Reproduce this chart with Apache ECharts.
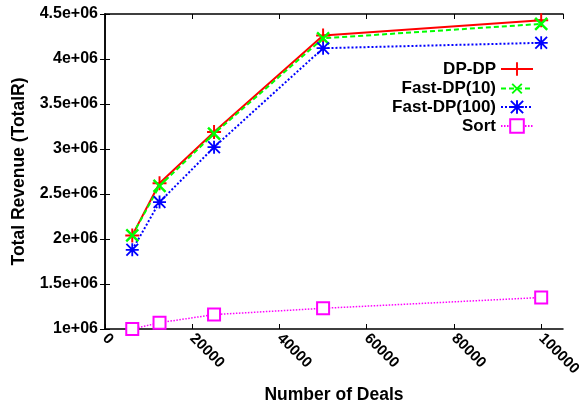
<!DOCTYPE html>
<html>
<head>
<meta charset="utf-8">
<script src="https://cdn.jsdelivr.net/npm/echarts@6/dist/echarts.min.js"></script>
<style>
  html, body { margin: 0; padding: 0; background: #fff; }
  #chart { width: 585px; height: 408px; }
</style>
</head>
<body>
<div id="chart"></div>
<script>
const deals = [6250, 12500, 25000, 50000, 100000];
const dpDp = [2.04e6, 2.62e6, 3.19e6, 4.26e6, 4.43e6];
const fastDp10 = [2.04e6, 2.59e6, 3.17e6, 4.23e6, 4.39e6];
const fastDp100 = [1.88e6, 2.41e6, 3.02e6, 4.12e6, 4.18e6];
const sortRev = [1.0e6, 1.07e6, 1.16e6, 1.23e6, 1.35e6];

const seriesNames = ["DP-DP", "Fast-DP(10)", "Fast-DP(100)", "Sort"];
const legendCenters = [69, 88, 107, 126];

const FONT = "Liberation Sans";

const plusPath = "path://M4.3 0H5.7V10H4.3ZM0 4.3H10V5.7H0Z";
const starPath = "path://M4.3 0H5.7V10H4.3ZM0 4.3H10V5.7H0ZM0 1L1 0L10 9L9 10ZM9 0L10 1L1 10L0 9Z";

function pairs(ys) {
  return deals.map((x, i) => [x, ys[i]]);
}

const chart = echarts.init(document.getElementById("chart"), null, { renderer: "canvas" });

const tickStyle = { show: true, inside: true, length: 5, lineStyle: { color: "#000", width: 1 } };
const axisLineStyle = { show: true, lineStyle: { color: "#000", width: 1.5 } };

option = {
  animation: false,
  backgroundColor: "#fff",
  grid: { left: 105, top: 14, right: 22, bottom: 79, containLabel: false, outerBoundsMode: "none" },
  legend: seriesNames.map((n, i) => ({
    data: [n],
    right: 51,
    top: legendCenters[i] - 9,
    align: "right",
    itemWidth: 32,
    itemHeight: 17,
    itemGap: 0,
    padding: 0,
    selectedMode: false,
    textStyle: { fontFamily: FONT, fontWeight: "bold", fontSize: 17, color: "#000", lineHeight: 18 }
  })),
  xAxis: [
    {
      type: "value",
      min: 0,
      max: 105000,
      interval: 20000,
      name: "Number of Deals",
      nameLocation: "middle",
      nameGap: 57,
      nameTextStyle: { fontFamily: FONT, fontWeight: "bold", fontSize: 17.5, color: "#000" },
      axisLine: axisLineStyle,
      axisTick: tickStyle,
      splitLine: { show: false },
      axisLabel: {
        rotate: -45,
        margin: 7,
        fontFamily: FONT,
        fontWeight: "bold",
        fontSize: 15,
        color: "#000",
        showMaxLabel: false,
        formatter: v => (v > 100000 ? "" : String(v))
      }
    },
    {
      type: "value",
      position: "top",
      min: 0,
      max: 105000,
      interval: 20000,
      axisLine: axisLineStyle,
      axisTick: tickStyle,
      axisLabel: { show: false },
      splitLine: { show: false }
    }
  ],
  yAxis: [
    {
      type: "value",
      min: 1e6,
      max: 4.5e6,
      interval: 0.5e6,
      name: "Total Revenue (TotalR)",
      nameLocation: "middle",
      nameGap: 77,
      nameTextStyle: { fontFamily: FONT, fontWeight: "bold", fontSize: 17.5, color: "#000" },
      axisLine: axisLineStyle,
      axisTick: tickStyle,
      splitLine: { show: false },
      axisLabel: {
        margin: 7,
        fontFamily: FONT,
        fontWeight: "bold",
        fontSize: 16,
        color: "#000",
        formatter: v => (v / 1e6) + "e+06"
      }
    },
    {
      type: "value",
      position: "right",
      min: 1e6,
      max: 4.5e6,
      interval: 0.5e6,
      axisLine: axisLineStyle,
      axisTick: tickStyle,
      axisLabel: { show: false },
      splitLine: { show: false }
    }
  ],
  series: [
    {
      name: "DP-DP",
      type: "line",
      data: pairs(dpDp),
      symbol: plusPath,
      symbolSize: 14,
      itemStyle: { color: "#ff0000" },
      lineStyle: { color: "#ff0000", width: 2 }
    },
    {
      name: "Fast-DP(10)",
      type: "line",
      data: pairs(fastDp10),
      symbol: plusPath,
      symbolRotate: 45,
      symbolSize: 17,
      itemStyle: { color: "#00ff00" },
      lineStyle: { color: "#00ff00", width: 2, type: [5, 3] }
    },
    {
      name: "Fast-DP(100)",
      type: "line",
      data: pairs(fastDp100),
      symbol: starPath,
      symbolSize: 13,
      itemStyle: { color: "#0000ff" },
      lineStyle: { color: "#0000ff", width: 2, type: [2, 2] }
    },
    {
      name: "Sort",
      type: "line",
      data: pairs(sortRev),
      symbol: "emptyRect",
      symbolSize: 12,
      itemStyle: { color: "#ff00ff", borderColor: "#ff00ff", borderWidth: 2 },
      lineStyle: { color: "#ff00ff", width: 1.5, type: [1.5, 1.5] }
    }
  ]
};

chart.setOption(option);
</script>
</body>
</html>
